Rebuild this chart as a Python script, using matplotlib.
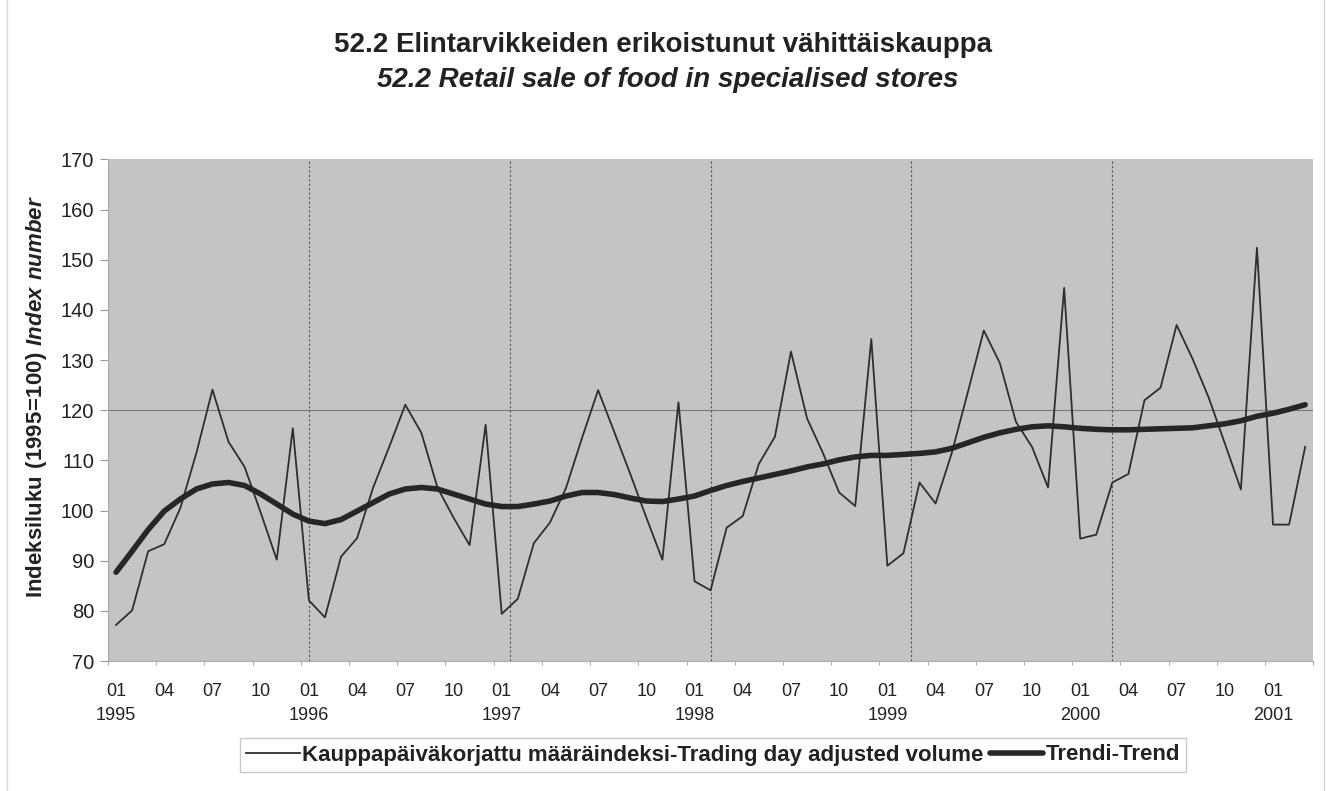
import numpy as np
import matplotlib
matplotlib.use("Agg")
import matplotlib.pyplot as plt
from matplotlib.lines import Line2D

plt.rcParams['font.family'] = ['Liberation Sans', 'DejaVu Sans']
plt.rcParams['mathtext.fontset'] = 'custom'
plt.rcParams['mathtext.rm'] = 'Liberation Sans:bold'
plt.rcParams['mathtext.bfit'] = 'Liberation Sans:bold:italic'

# ---------------------------
# Data (monthly, 1995-01 .. 2001-03)
# ---------------------------
years = [1995, 1996, 1997, 1998, 1999, 2000, 2001]
month_labels = ["01", "04", "07", "10"]

volume = [77.2, 80.1, 91.9, 93.3, 100.5, 111.5, 124.1, 113.7, 108.7, 99.6, 90.2, 116.4,
          82.1, 78.7, 90.8, 94.5, 104.6, 112.7, 121.1, 115.5, 104.6, 98.6, 93.1, 117.1,
          79.4, 82.4, 93.5, 97.6, 104.5, 114.5, 124.0, 115.7, 107.3, 98.6, 90.2, 121.6,
          85.9, 84.1, 96.6, 98.9, 109.3, 114.7, 131.7, 118.4, 111.4, 103.6, 100.9, 134.2,
          89.0, 91.5, 105.6, 101.4, 111.4, 123.5, 135.9, 129.4, 117.7, 112.7, 104.6, 144.4,
          94.4, 95.2, 105.6, 107.3, 122.0, 124.5, 137.0, 130.2, 122.5, 113.4, 104.2, 152.4,
          97.2, 97.2, 112.7]

trend = [87.7, 91.9, 96.2, 99.9, 102.3, 104.3, 105.3, 105.6, 105.0, 103.3, 101.3, 99.3,
         97.9, 97.4, 98.2, 99.9, 101.6, 103.3, 104.3, 104.6, 104.3, 103.3, 102.3, 101.3,
         100.8, 100.8, 101.3, 101.9, 102.9, 103.6, 103.6, 103.2, 102.5, 101.9, 101.8, 102.3,
         102.9, 104.0, 105.0, 105.8, 106.5, 107.2, 107.9, 108.7, 109.3, 110.1, 110.7, 111.0,
         111.0, 111.2, 111.4, 111.7, 112.4, 113.5, 114.6, 115.5, 116.2, 116.7, 116.9, 116.7,
         116.4, 116.2, 116.1, 116.1, 116.2, 116.3, 116.4, 116.5, 116.9, 117.3, 117.9, 118.8,
         119.4, 120.2, 121.1]

n = len(volume)
x = np.arange(n)

# tick labels every 3 months, year under January
tick_pos = np.arange(0, n, 3)
tick_lab = []
for p in tick_pos:
    m = month_labels[(p % 12) // 3]
    if p % 12 == 0:
        tick_lab.append(m + "\n" + str(years[p // 12]))
    else:
        tick_lab.append(m)

# ---------------------------
# Plot
# ---------------------------
fig = plt.figure(figsize=(13.27, 7.91), dpi=100)
ax = fig.add_axes([0.0814, 0.1643, 0.9082, 0.6341])
ax.set_facecolor("#c4c4c4")

# gridlines: one horizontal, vertical splitting the area in 6
ax.axhline(120, color="#7a7a7a", lw=0.8, zorder=1)
for k in range(1, 6):
    ax.axvline(-0.5 + 12.5 * k, color="#555555", lw=0.8, ls=(0, (2, 2)), zorder=1)

ax.plot(x, volume, color="#2e2e2e", lw=1.3, zorder=3,
        label="Kauppapäiväkorjattu määräindeksi-Trading day adjusted volume")
ax.plot(x, trend, color="#262626", lw=4, solid_capstyle="round", zorder=4,
        label="Trendi-Trend")

ax.set_xlim(-0.5, n - 0.5)
ax.set_ylim(70, 170)
ax.set_yticks(np.arange(70, 171, 10))
ax.set_xticks(tick_pos)
ax.set_xticklabels(tick_lab, linespacing=1.5)
ax.set_xticks(np.arange(-0.5, n, 3), minor=True)
ax.tick_params(axis="x", which="major", length=0, pad=16, labelsize=13, colors="#222222")
ax.tick_params(axis="x", which="minor", length=3, color="#999999")
ax.tick_params(axis="y", length=6, color="#999999", labelsize=14.5, pad=4)
ax.tick_params(axis="y", colors="#999999", labelcolor="#222222")

for s in ["top", "right"]:
    ax.spines[s].set_visible(False)
for s in ["left", "bottom"]:
    ax.spines[s].set_color("#aaaaaa")

fig.text(0.5, 1 - 45 / 791, "52.2 Elintarvikkeiden erikoistunut vähittäiskauppa",
         ha="center", va="center", fontsize=20, fontweight="bold", color="#222222")
fig.text(0.503, 1 - 80 / 791, "52.2 Retail sale of food in specialised stores",
         ha="center", va="center", fontsize=20, fontweight="bold", fontstyle="italic",
         color="#222222")

fig.text(37 / 1327, 1 - 397 / 791,
         r"$\mathrm{Indeksiluku\ (1995\!{=}\!100)}\ \mathbfit{Index\ number}$",
         rotation=90, ha="center", va="center", fontsize=16, color="#222222")

leg = fig.legend(loc="center", bbox_to_anchor=(713 / 1327, 1 - 755 / 791), ncol=2,
                 frameon=True, fancybox=False, handlelength=2.4, handletextpad=0.1,
                 columnspacing=0.3, borderpad=0.3, prop={"weight": "bold", "size": 16})
leg.get_frame().set_edgecolor("#bbbbbb")
leg.get_frame().set_linewidth(1.0)
for t in leg.get_texts():
    t.set_color("#222222")

# faint outer frame of the chart
fig.add_artist(Line2D([7 / 1327, 7 / 1327], [0, 1], color="#d8d8d8", lw=1))
fig.add_artist(Line2D([1324 / 1327, 1324 / 1327], [0, 1], color="#d8d8d8", lw=1))

fig.savefig("out.png", dpi=100)
